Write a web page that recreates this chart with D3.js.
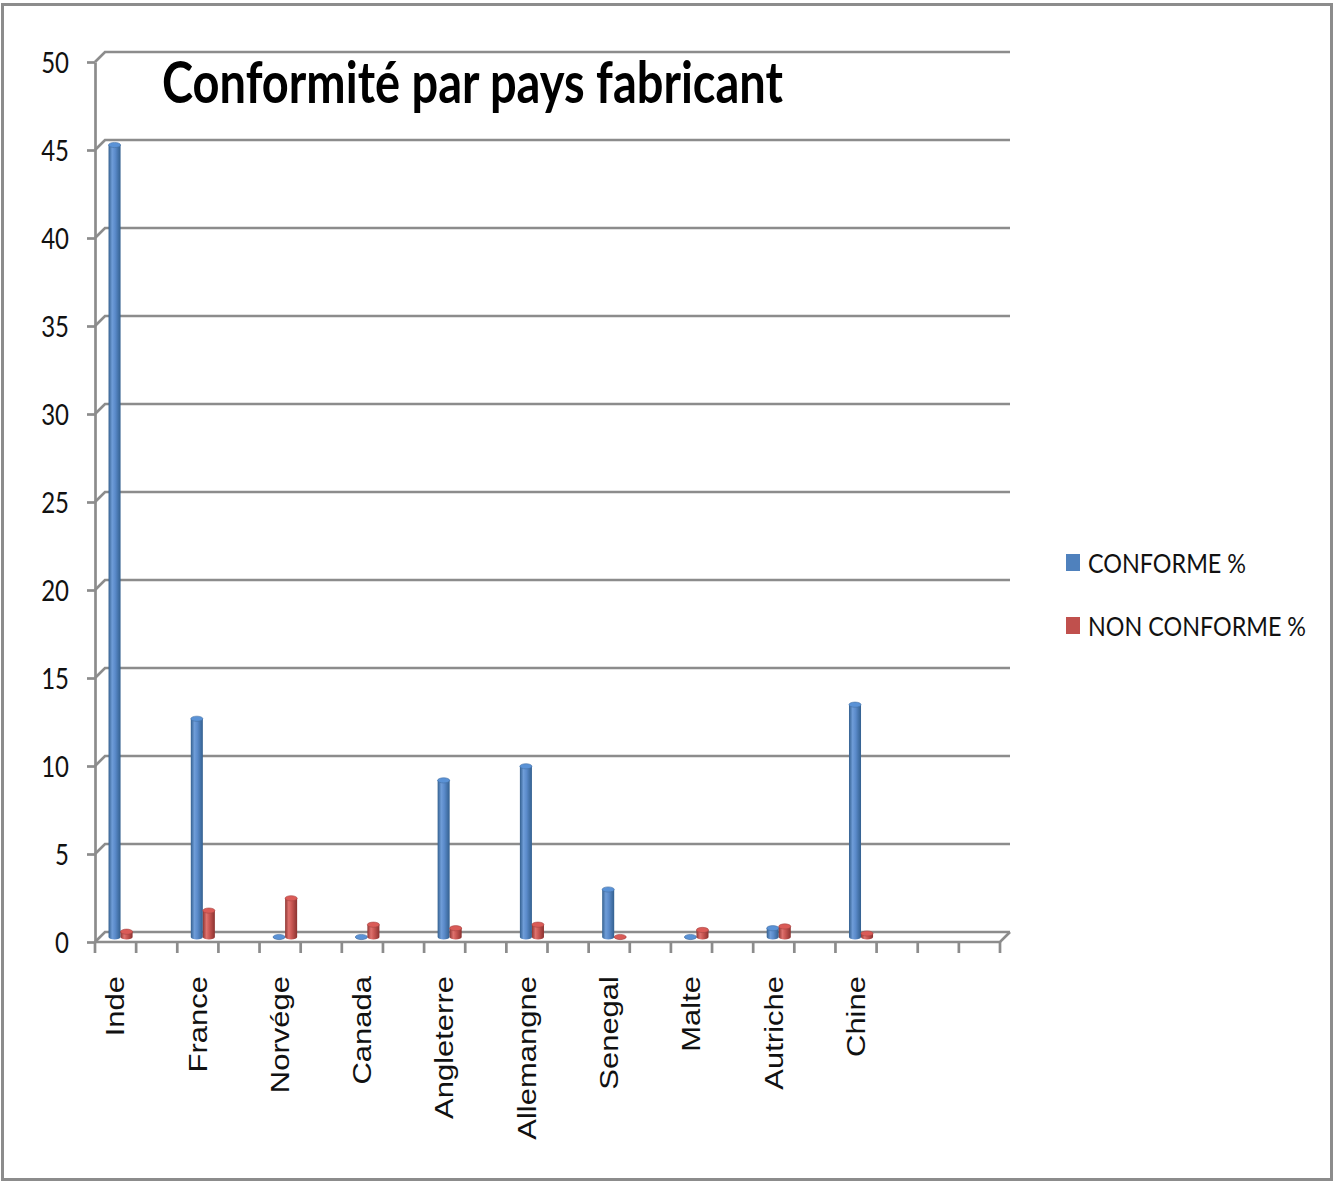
<!DOCTYPE html>
<html>
<head>
<meta charset="utf-8">
<script src="https://cdn.jsdelivr.net/npm/d3@7"></script>
<style>
  html, body { margin: 0; padding: 0; background: #fff; }
  svg { display: block; }
</style>
</head>
<body>
<svg id="chart" width="1338" height="1182"></svg>
<script>
// Countries of manufacture; the last slot is an empty category.
const categories = ["Inde", "France", "Norvége", "Canada", "Angleterre", "Allemangne",
                    "Senegal", "Malte", "Autriche", "Chine", ""];
const seriesNames = ["CONFORME %", "NON CONFORME %"];
const conforme    = [45, 12.4, 0, 0, 8.9, 9.7, 2.7, 0, 0.5, 13.2, null];
const nonConforme = [0.3, 1.5, 2.2, 0.7, 0.5, 0.7, 0, 0.4, 0.6, 0.2, null];
const yTicks = [0, 5, 10, 15, 20, 25, 30, 35, 40, 45, 50];
const titleText = "Conformité par pays fabricant";

const seriesValues = [conforme, nonConforme];
const seriesColors = ["#4f81bd", "#c0504d"];

const svg = d3.select("#chart");
const GRID = "#8c8c8c";
const STRETCH = "scale(1,1.2)";        // text is drawn tall and narrow
const LABEL_STRETCH = "scale(1,1.24)";

// outer frame
svg.append("rect")
  .attr("x", 2.5).attr("y", 4.5).attr("width", 1329).attr("height", 1175)
  .attr("fill", "#fff").attr("stroke", "#8c8c8c").attr("stroke-width", 3);

// scales (front plane of the 3-D box)
const x = d3.scaleBand().domain(categories).range([95, 1000]);
const y = d3.scaleLinear().domain([0, 50]).range([942, 62]);
const DX = 10, DY = -10;          // depth of the box
const MX = DX / 2, MY = DY / 2;   // columns stand at mid depth
const half = x.bandwidth() / 2;
const x1 = d3.scaleBand().domain(seriesNames).range([0, half]).paddingInner(0).paddingOuter(0.71);

// gradients for the cylindrical columns
const defs = svg.append("defs");
const shades = [
  ["#34608f", "#6f9dd8", "#5b8bcb", "#33608f"],
  ["#8e3532", "#de726e", "#c95753", "#8b3230"]
];
shades.forEach((s, i) => {
  const g = defs.append("linearGradient").attr("id", "cyl" + i)
    .attr("x1", "0%").attr("x2", "100%").attr("y1", "0%").attr("y2", "0%");
  [0, 30, 55, 100].forEach((o, k) => g.append("stop").attr("offset", o + "%").attr("stop-color", s[k]));
});

// back-wall gridlines with their diagonal links to the front axis
const grid = svg.append("g").attr("fill", "none").attr("stroke", GRID).attr("stroke-width", 2.7);
grid.selectAll("path.grid").data(yTicks).join("path")
  .attr("class", "grid")
  .attr("d", t => `M95,${y(t)} L${95 + DX},${y(t) + DY} L${1000 + DX},${y(t) + DY}`);

// front floor edge
grid.append("path").attr("d", `M95,${y(0)} L1000,${y(0)} L${1000 + DX},${y(0) + DY}`);

// columns
const bars = svg.append("g");
categories.forEach((cat, ci) => {
  seriesNames.forEach((s, si) => {
    const v = seriesValues[si][ci];
    if (v === null || v === undefined) return;
    const xl = x(cat) + x1(s) + MX;
    const w = x1.bandwidth();
    const xr = xl + w;
    const yb = y(0) + MY;
    const yt = y(v) + MY;
    const ry = 2.6;
    bars.append("path")
      .attr("d", `M${xl},${yt} L${xl},${yb} A${w / 2},${ry} 0 0 0 ${xr},${yb} L${xr},${yt} Z`)
      .attr("fill", `url(#cyl${si})`);
    bars.append("ellipse")
      .attr("cx", xl + w / 2).attr("cy", yt).attr("rx", w / 2).attr("ry", ry)
      .attr("fill", d3.color(seriesColors[si]).brighter(0.35))
      .attr("stroke", d3.color(seriesColors[si]).darker(0.4)).attr("stroke-width", 0.6);
  });
});

// value axis on the front plane
const yAxis = d3.axisLeft(y).tickValues(yTicks).tickSize(8).tickSizeOuter(0).tickPadding(18);
const ya = svg.append("g").attr("transform", "translate(95,0)").call(yAxis);
ya.select(".domain").attr("stroke", GRID).attr("stroke-width", 2.7);
ya.selectAll(".tick line").attr("stroke", GRID).attr("stroke-width", 2.7);
ya.selectAll(".tick text")
  .attr("font-family", "Lato, 'Open Sans', sans-serif").attr("font-size", 24)
  .attr("fill", "#111").attr("dy", "0.36em").attr("transform", STRETCH);

// category axis: a tick at every band edge and band midpoint
const xTickPos = [];
categories.forEach(c => { xTickPos.push(x(c)); xTickPos.push(x(c) + half); });
xTickPos.push(x.range()[1]);
svg.append("g").selectAll("line").data(xTickPos).join("line")
  .attr("x1", d => d).attr("x2", d => d)
  .attr("y1", y(0)).attr("y2", y(0) + 11)
  .attr("stroke", GRID).attr("stroke-width", 2.7);

// category labels, rotated
svg.append("g").selectAll("text").data(categories.filter(c => c !== "")).join("text")
  .attr("transform", c => `translate(${x(c) + half / 2},976) ${LABEL_STRETCH} rotate(-90)`)
  .attr("text-anchor", "end").attr("dy", "0.35em")
  .attr("font-family", "'Liberation Sans', Arial, sans-serif").attr("font-size", 25)
  .attr("fill", "#111")
  .text(c => c);

// title
svg.append("text")
  .attr("transform", `translate(162,103) ${STRETCH}`)
  .attr("font-family", "Lato, 'Open Sans', sans-serif").attr("font-weight", 700)
  .attr("font-size", 47).attr("fill", "#000")
  .attr("textLength", 621).attr("lengthAdjust", "spacingAndGlyphs")
  .text(titleText);

// legend
const legendY = [573, 636];
const legendW = [158, 218];
const lg = svg.append("g");
seriesNames.forEach((s, i) => {
  lg.append("rect")
    .attr("x", 1066).attr("y", legendY[i] - 19).attr("width", 14).attr("height", 17)
    .attr("fill", seriesColors[i]);
  lg.append("text")
    .attr("transform", `translate(1088,${legendY[i]}) ${STRETCH}`)
    .attr("font-family", "Lato, 'Open Sans', sans-serif").attr("font-size", 23)
    .attr("fill", "#111")
    .attr("textLength", legendW[i]).attr("lengthAdjust", "spacingAndGlyphs")
    .text(s);
});
</script>
</body>
</html>
